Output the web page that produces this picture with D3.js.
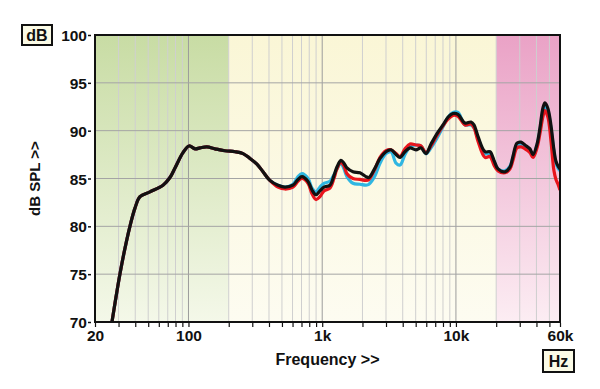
<!DOCTYPE html>
<html>
<head>
<meta charset="utf-8">
<script src="https://cdn.jsdelivr.net/npm/d3@7"></script>
<style>
  body { margin: 0; background: #fff; }
  text { font-family: "Liberation Sans", Arial, sans-serif; font-weight: bold; fill: #111; }
</style>
</head>
<body>
<svg id="chart" width="600" height="389"></svg>
<script>
// frequency points (Hz) and measured SPL for the three traces
var freqHz = [26.5, 28.7, 30.8, 33.5, 36.5, 39.8, 43.4, 51.5, 64.5, 72.7, 79.3, 91, 101, 112, 122, 137, 158, 187, 223, 256, 288, 325, 361, 406, 467, 527, 604, 659, 706, 783, 839, 898, 962, 1031, 1142, 1224, 1289, 1381, 1455, 1531, 1698, 1915, 2124, 2237, 2481, 2706, 3000, 3270, 3565, 3815, 4160, 4530, 5020, 5475, 5970, 6510, 7215, 8000, 8720, 9510, 10360, 11690, 12950, 13650, 14620, 16490, 17970, 19250, 20630, 23270, 25370, 26690, 28600, 30640, 32830, 35780, 37700, 40390, 42480, 44770, 46340, 48770, 51300, 54060, 55970, 57970, 60000];

var splBlack = [69.6, 72.6, 75.1, 77.7, 80.0, 81.9, 83.1, 83.6, 84.3, 85.1, 86.1, 87.7, 88.4, 88.1, 88.2, 88.3, 88.1, 87.9, 87.8, 87.6, 87.1, 86.5, 85.7, 84.8, 84.3, 84.1, 84.3, 84.9, 85.2, 84.7, 83.8, 83.3, 83.7, 84.1, 84.3, 85.3, 86.2, 86.9, 86.6, 86.1, 85.7, 85.6, 85.2, 85.1, 86.1, 87.1, 87.8, 88.0, 87.5, 87.2, 87.8, 88.2, 88.0, 88.2, 87.6, 88.6, 89.7, 90.6, 91.4, 91.8, 91.7, 90.8, 90.9, 90.6, 89.4, 87.8, 87.8, 86.9, 86.0, 85.7, 86.2, 87.3, 88.7, 88.8, 88.5, 88.1, 87.5, 88.6, 90.3, 92.4, 92.9, 92.3, 90.6, 88.0, 86.8, 86.3, 86.0];

var splRed = [69.6, 72.6, 75.1, 77.7, 80.0, 81.9, 83.1, 83.6, 84.3, 85.1, 86.1, 87.7, 88.4, 88.1, 88.2, 88.3, 88.1, 87.9, 87.8, 87.6, 87.1, 86.5, 85.7, 84.8, 84.1, 83.9, 84.1, 84.7, 85.0, 84.5, 83.4, 82.8, 83.1, 83.7, 84.0, 85.0, 86.0, 86.7, 86.3, 85.5, 85.0, 84.9, 84.8, 84.9, 86.0, 87.2, 87.9, 88.0, 87.6, 87.3, 88.1, 88.6, 88.5, 88.4, 87.7, 88.4, 89.5, 90.5, 91.2, 91.6, 91.5, 90.6, 90.7, 90.3, 88.9, 87.2, 87.3, 86.4, 85.8, 85.6, 86.0, 86.9, 88.2, 88.3, 88.1, 87.7, 87.2, 88.2, 89.7, 91.5, 92.1, 91.4, 89.0, 85.8, 84.9, 84.4, 83.8];

var splCyan = [69.6, 72.6, 75.1, 77.7, 80.0, 81.9, 83.1, 83.6, 84.3, 85.1, 86.1, 87.7, 88.4, 88.1, 88.2, 88.3, 88.1, 87.9, 87.8, 87.6, 87.1, 86.5, 85.7, 84.8, 84.3, 84.1, 84.4, 85.2, 85.5, 85.0, 84.0, 83.6, 84.1, 84.5, 84.7, 85.4, 86.0, 86.6, 86.0, 85.2, 84.5, 84.4, 84.3, 84.4, 85.3, 86.6, 87.6, 87.8, 86.6, 86.4, 87.5, 88.3, 88.5, 88.4, 87.6, 88.2, 89.2, 90.4, 91.4, 91.9, 91.9, 90.6, 90.6, 90.3, 89.2, 87.6, 87.6, 86.8, 86.0, 85.8, 86.3, 87.2, 88.4, 88.5, 88.2, 87.9, 87.4, 88.5, 90.0, 92.0, 92.5, 92.0, 90.3, 87.8, 86.6, 86.1, 85.8];

var dbTicks = [70, 75, 80, 85, 90, 95, 100];
var freqLabels = [20, 100, 1000, 10000, 60000];
var gridFreqs = [20, 30, 40, 50, 60, 70, 80, 90, 100, 200, 300, 400, 500, 600, 700, 800, 900, 1000, 2000, 3000, 4000, 5000, 6000, 7000, 8000, 9000, 10000, 20000, 30000, 40000, 50000, 60000];
var majorFreqs = [100, 1000, 10000];
var bands = [
  {from: 20, to: 200, top: "#c8dca4", bottom: "#f4f8e9"},
  {from: 200, to: 20000, top: "#faf6d6", bottom: "#fdfcf1"},
  {from: 20000, to: 60000, top: "#eaa2c6", bottom: "#fcedf3"}
];

var margin = {top: 35, right: 40, bottom: 67, left: 95};
var width = 600 - margin.left - margin.right,
    height = 389 - margin.top - margin.bottom;

var svg = d3.select("#chart");
var defs = svg.append("defs");

var x = d3.scaleLog().domain([20, 60000]).range([0, width]);
var y = d3.scaleLinear().domain([70, 100]).range([height, 0]);

bands.forEach(function(b, i) {
  var g = defs.append("linearGradient").attr("id", "band" + i)
    .attr("x1", 0).attr("y1", 0).attr("x2", 0).attr("y2", 1);
  g.append("stop").attr("offset", "0%").attr("stop-color", b.top);
  g.append("stop").attr("offset", "100%").attr("stop-color", b.bottom);
});

defs.append("clipPath").attr("id", "plotclip")
  .append("rect").attr("width", width).attr("height", height);

var g = svg.append("g").attr("transform", "translate(" + margin.left + "," + margin.top + ")");

g.selectAll("rect.band").data(bands).enter().append("rect")
  .attr("class", "band")
  .attr("x", function(d) { return x(d.from); })
  .attr("width", function(d) { return x(d.to) - x(d.from); })
  .attr("y", 0).attr("height", height)
  .attr("fill", function(d, i) { return "url(#band" + i + ")"; });

// grid
g.selectAll("line.vgrid").data(gridFreqs).enter().append("line")
  .attr("class", "vgrid")
  .attr("x1", function(d) { return x(d); }).attr("x2", function(d) { return x(d); })
  .attr("y1", 0).attr("y2", height)
  .attr("stroke", function(d) { return majorFreqs.indexOf(d) >= 0 ? "#9c9c9c" : "#cfcfcf"; })
  .attr("stroke-width", 1);

g.selectAll("line.hgrid").data(dbTicks.slice(1, -1)).enter().append("line")
  .attr("class", "hgrid")
  .attr("x1", 0).attr("x2", width)
  .attr("y1", function(d) { return y(d); }).attr("y2", function(d) { return y(d); })
  .attr("stroke", "#a4a4a4").attr("stroke-width", 1);

// traces
var line = d3.line()
  .x(function(d, i) { return x(freqHz[i]); })
  .y(function(d) { return y(d); })
  .curve(d3.curveCatmullRom.alpha(0.5));

var traces = g.append("g").attr("clip-path", "url(#plotclip)");
[[splCyan, "#2fb6e2"], [splRed, "#e8141c"], [splBlack, "#111111"]].forEach(function(t) {
  traces.append("path").datum(t[0])
    .attr("d", line)
    .attr("fill", "none")
    .attr("stroke", t[1])
    .attr("stroke-width", 3.2)
    .attr("stroke-linejoin", "round");
});

// frame
g.append("rect").attr("width", width).attr("height", height)
  .attr("fill", "none").attr("stroke", "#111").attr("stroke-width", 2);

// y axis
var yAxis = d3.axisLeft(y).tickValues(dbTicks).tickSize(3).tickPadding(1);
var yg = g.append("g").attr("transform", "translate(-4,0)").call(yAxis);
yg.select(".domain").remove();
yg.selectAll(".tick line").attr("stroke", "#111").attr("stroke-width", 1.5);
yg.selectAll(".tick text").style("font-size", "15.5px").attr("dy", "0.36em");

// x axis: small ticks on every grid line, labels on a few
var xAxis = d3.axisBottom(x).tickValues(gridFreqs).tickSize(4).tickPadding(3)
  .tickFormat(function(d) {
    if (freqLabels.indexOf(d) < 0) return "";
    return d >= 1000 ? (d / 1000) + "k" : d;
  });
var xg = g.append("g").attr("transform", "translate(0," + (height + 1) + ")").call(xAxis);
xg.select(".domain").remove();
xg.selectAll(".tick line").attr("stroke", "#111").attr("stroke-width", 1.2);
xg.selectAll(".tick text").style("font-size", "15.5px");

// titles
svg.append("text")
  .attr("transform", "translate(40," + (margin.top + height / 2) + ") rotate(-90)")
  .attr("text-anchor", "middle")
  .style("font-size", "15px")
  .text("dB SPL >>");

svg.append("text")
  .attr("x", margin.left + width / 2).attr("y", 365)
  .attr("text-anchor", "middle")
  .style("font-size", "16px")
  .text("Frequency >>");

// unit boxes
function unitBox(bx, by, bw, bh, label) {
  svg.append("rect").attr("x", bx).attr("y", by).attr("width", bw).attr("height", bh)
    .attr("fill", "#fbfbe6").attr("stroke", "#111").attr("stroke-width", 2);
  svg.append("text").attr("x", bx + bw / 2).attr("y", by + bh / 2).attr("dy", "0.36em")
    .attr("text-anchor", "middle").style("font-size", "16px").text(label);
}
unitBox(22, 25, 30, 20, "dB");
unitBox(543, 350, 31, 22, "Hz");
</script>
</body>
</html>
